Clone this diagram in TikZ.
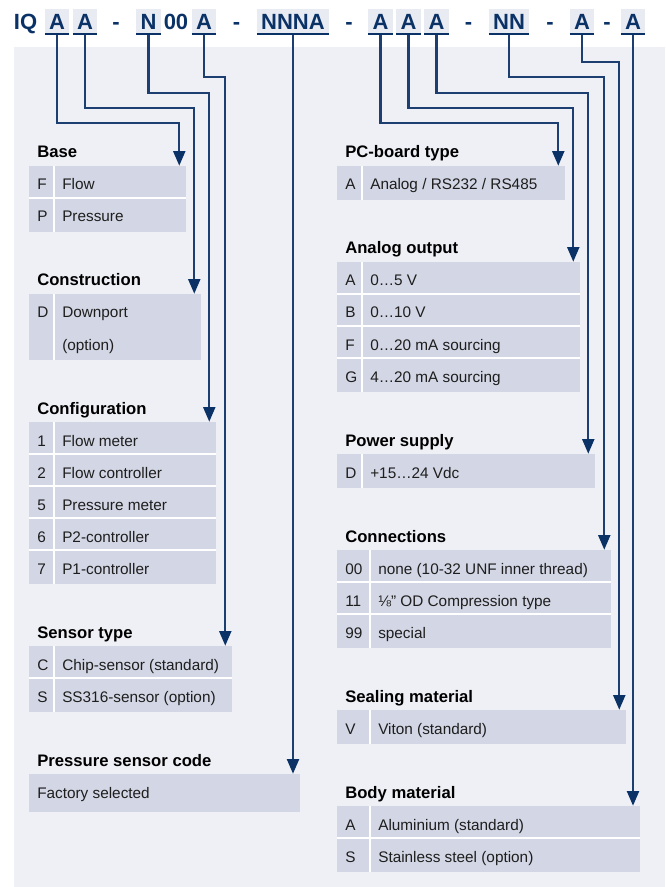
\documentclass[tikz,border=0pt]{standalone}
\usepackage{fontspec}
\setmainfont{Liberation Sans}
\usepackage{tikz}
\usetikzlibrary{calc,fit,arrows.meta}

\definecolor{navy}{RGB}{10,50,102}
\definecolor{wireblue}{RGB}{28,62,112}
\definecolor{panelbg}{RGB}{239,240,246}
\definecolor{tabbg}{RGB}{233,235,243}
\definecolor{cellbg}{RGB}{211,214,228}
\definecolor{bodytext}{RGB}{30,30,30}

\tikzstyle{code}=[font=\fontsize{16.5}{20}\selectfont\bfseries,text=navy,text height=11.8pt,text depth=0pt,inner xsep=3.4pt,inner ysep=3.5pt]
\tikzstyle{codetab}=[code,fill=tabbg,path picture={\draw[navy,line width=3pt] (path picture bounding box.south west) -- (path picture bounding box.south east);}]
\tikzstyle{grouptitle}=[anchor=base west,inner sep=0pt,font=\fontsize{12.5}{15}\selectfont\bfseries]
\tikzstyle{tablebox}=[fill=cellbg,inner sep=0pt,draw=none]
\tikzstyle{cellkey}=[anchor=base west,inner sep=0pt,text=bodytext,font=\fontsize{11.5}{14}\selectfont]
\tikzstyle{celltext}=[cellkey]
\tikzstyle{cellsep}=[draw=white,line width=1.2pt]
\tikzstyle{wire}=[draw=wireblue,line width=1.6pt,-{Triangle[width=9pt,length=11pt,color=navy]}]

% #1 table name, #2 title, #3 left x, #4 title y, #5 right x, #6 split x, #7 rows
\newcommand\codetable[7]{%
  \foreach \k/\t [count=\n] in {#7} {\xdef\nrows{\n}}
  \node[grouptitle] (#1-title) at (#3+8,#4+6) {#2};
  \node[tablebox,fit={(#3,#4+14) (#5,#4+32*\nrows+16)}] (#1) {};
  \draw[cellsep] (#6,#4+14) -- (#6,#4+32*\nrows+16);
  \foreach \k/\t [count=\i] in {#7} {
    \edef\tmpkey{\k}
    \ifnum\i>1 \ifx\tmpkey\empty\else
      \draw[cellsep] (#3,#4+32*\i-18) -- (#5,#4+32*\i-18);
    \fi\fi
    \node[cellkey] (#1-k\i) at (#3+8,#4+32*\i+6) {\k};
    \node[celltext] (#1-t\i) at (#6+8,#4+32*\i+6) {\t};
  }
}

\begin{document}
\begin{tikzpicture}[x=0.75pt,y=-0.75pt]
  \useasboundingbox (0,0) rectangle (665,887);
  \fill[panelbg] (14,47) rectangle (665,887);

  % order code
  \node[code] (iq) at (25.5,22) {IQ};
  \node[codetab] (kBase) at (57,22) {A};
  \node[codetab] (kCons) at (85,22) {A};
  \node[code] (dash1) at (116,22) {-};
  \node[codetab] (kConf) at (148.5,22) {N};
  \node[code] (zeros) at (176,22) {00};
  \node[codetab] (kSens) at (204,22) {A};
  \node[code] (dash2) at (236.5,22) {-};
  \node[codetab] (kPcode) at (293,22) {NNNA};
  \node[code] (dash3) at (349,22) {-};
  \node[codetab] (kBoard) at (380.5,22) {A};
  \node[codetab] (kAout) at (408.5,22) {A};
  \node[codetab] (kPower) at (436.5,22) {A};
  \node[code] (dash4) at (468.5,22) {-};
  \node[codetab] (kConn) at (509,22) {NN};
  \node[code] (dash5) at (550,22) {-};
  \node[codetab] (kSeal) at (582,22) {A};
  \node[code] (dash6) at (607,22) {-};
  \node[codetab] (kBody) at (633,22) {A};

  % left column
  \codetable{tBase}{Base}{29}{152}{185.5}{54}{F/Flow,P/Pressure}
  \codetable{tCons}{Construction}{29}{280}{200.5}{54}{D/Downport,{}/(option)}
  \codetable{tConf}{Configuration}{29}{408}{215.5}{54}{1/Flow meter,2/Flow controller,5/Pressure meter,6/P2-controller,7/P1-controller}
  \codetable{tSens}{Sensor type}{29}{632}{231.5}{54}{C/Chip-sensor (standard),S/SS316-sensor (option)}
  \node[grouptitle] (tPcode-title) at (37,766) {Pressure sensor code};
  \node[tablebox,fit={(29,774) (299.5,812)}] (tPcode) {};
  \node[celltext] (tPcode-t1) at (37,798) {Factory selected};

  % right column
  \codetable{tBoard}{PC-board type}{337}{152}{564.5}{362}{A/{Analog / RS232 / RS485}}
  \codetable{tAout}{Analog output}{337}{248}{579.5}{362}{A/0…5 V,B/0…10 V,F/0…20 mA sourcing,G/4…20 mA sourcing}
  \codetable{tPower}{Power supply}{337}{440}{594.5}{362}{D/+15…24 Vdc}
  \codetable{tConn}{Connections}{337}{536}{610.5}{370}{00/none (10-32 UNF inner thread),11/⅛” OD Compression type,99/special}
  \codetable{tSeal}{Sealing material}{337}{696}{625.5}{370}{V/Viton (standard)}
  \codetable{tBody}{Body material}{337}{792}{639.5}{370}{A/Aluminium (standard),S/Stainless steel (option)}

  % connectors
  \draw[wire] (kBase.south) -- (kBase.south |- 0,123) -| ($(tBase.north east)+(-6.5,0)$);
  \draw[wire] (kCons.south) -- (kCons.south |- 0,108) -| ($(tCons.north east)+(-6.5,0)$);
  \draw[wire] (kConf.south) -- (kConf.south |- 0,93) -| ($(tConf.north east)+(-6.5,0)$);
  \draw[wire] (kSens.south) -- (kSens.south |- 0,77) -| ($(tSens.north east)+(-6.5,0)$);
  \draw[wire] (kPcode.south) -- (kPcode.south |- tPcode.north);
  \draw[wire] (kBoard.south) -- (kBoard.south |- 0,123) -| ($(tBoard.north east)+(-6.5,0)$);
  \draw[wire] (kAout.south) -- (kAout.south |- 0,108) -| ($(tAout.north east)+(-6.5,0)$);
  \draw[wire] (kPower.south) -- (kPower.south |- 0,93) -| ($(tPower.north east)+(-6.5,0)$);
  \draw[wire] (kConn.south) -- (kConn.south |- 0,77) -| ($(tConn.north east)+(-6.5,0)$);
  \draw[wire] (kSeal.south) -- (kSeal.south |- 0,62) -| ($(tSeal.north east)+(-6.5,0)$);
  \draw[wire] (kBody.south) -- (kBody.south |- tBody.north);
\end{tikzpicture}
\end{document}
